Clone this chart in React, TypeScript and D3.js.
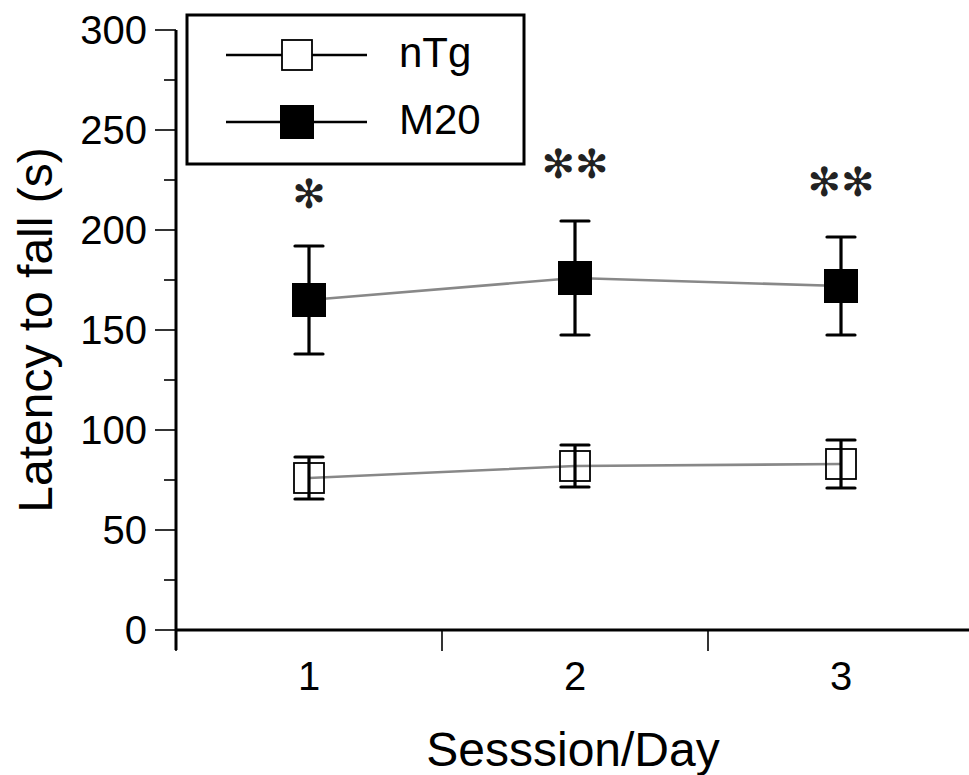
import React from "react";
import * as d3 from "d3";

const days = [1, 2, 3];
const nTgMean = [76, 82, 83];
const nTgErr = [10.5, 10.5, 12];
const m20Mean = [165, 176, 172];
const m20Err = [27, 28.5, 24.5];
const sigMarks = ["✻", "✻✻", "✻✻"];
const sigValues = [218, 233, 224];
const yMajorTicks = [0, 50, 100, 150, 200, 250, 300];
const yMinorTicks = [25, 75, 125, 175, 225, 275];
const xBoundaryTicks = [0.5, 1.5, 2.5];

const W = 969;
const H = 775;
const FONT = "'Liberation Sans', Arial, Helvetica, sans-serif";

export default function App() {
  const x = d3.scaleLinear().domain([0.5, 3.5]).range([176, 974]);
  const y = d3.scaleLinear().domain([0, 300]).range([630, 30]);
  const line = d3
    .line<number>()
    .x((_, i) => x(days[i]))
    .y((d) => y(d));

  const capHalf = 14;

  const errorBars = (means: number[], errs: number[], key: string) =>
    means.map((m, i) => {
      const cx = x(days[i]);
      const top = y(m + errs[i]);
      const bot = y(m - errs[i]);
      return (
        <g key={key + i} stroke="#000" strokeWidth={3.2}>
          <line x1={cx} x2={cx} y1={top} y2={bot} />
          <line x1={cx - capHalf} x2={cx + capHalf} y1={top} y2={top} strokeLinecap="round" />
          <line x1={cx - capHalf} x2={cx + capHalf} y1={bot} y2={bot} strokeLinecap="round" />
        </g>
      );
    });

  return (
    <svg
      width={W}
      height={H}
      style={{ position: "absolute", left: 0, top: 0, display: "block", background: "#fff" }}
      fontFamily={FONT}
    >
      {/* Y axis */}
      <line x1={176} x2={176} y1={y(300)} y2={650} stroke="#000" strokeWidth={3} />
      {yMajorTicks.map((t) => (
        <g key={"ym" + t}>
          <line x1={155} x2={176} y1={y(t)} y2={y(t)} stroke="#000" strokeWidth={1.6} />
          <text x={147} y={y(t)} dy="0.36em" textAnchor="end" fontSize={40}>
            {t}
          </text>
        </g>
      ))}
      {yMinorTicks.map((t) => (
        <line key={"yn" + t} x1={164} x2={176} y1={y(t)} y2={y(t)} stroke="#000" strokeWidth={1.6} />
      ))}
      {/* X axis */}
      <line x1={176} x2={W} y1={y(0)} y2={y(0)} stroke="#000" strokeWidth={3} />
      {xBoundaryTicks.map((t) => (
        <line key={"xt" + t} x1={x(t)} x2={x(t)} y1={y(0)} y2={651} stroke="#000" strokeWidth={1.6} />
      ))}
      {days.map((d) => (
        <text key={"xl" + d} x={x(d)} y={690} textAnchor="middle" fontSize={40}>
          {d}
        </text>
      ))}
      <text x={573} y={766} textAnchor="middle" fontSize={48}>
        Sesssion/Day
      </text>
      <text
        transform={`translate(52, 330) rotate(-90)`}
        textAnchor="middle"
        fontSize={48}
      >
        Latency to fall (s)
      </text>

      {/* Lines */}
      <path d={line(nTgMean) || ""} fill="none" stroke="#888" strokeWidth={2.6} />
      <path d={line(m20Mean) || ""} fill="none" stroke="#888" strokeWidth={2.6} />

      {/* nTg: hollow squares, then error bars */}
      {nTgMean.map((m, i) => (
        <rect
          key={"ns" + i}
          x={x(days[i]) - 15}
          y={y(m) - 15}
          width={30}
          height={30}
          fill="none"
          stroke="#000"
          strokeWidth={1.8}
        />
      ))}
      {errorBars(nTgMean, nTgErr, "ne")}

      {/* M20: error bars, then filled squares */}
      {errorBars(m20Mean, m20Err, "me")}
      {m20Mean.map((m, i) => (
        <rect key={"ms" + i} x={x(days[i]) - 17} y={y(m) - 17} width={34} height={34} fill="#000" />
      ))}

      {/* Significance marks */}
      {sigMarks.map((s, i) => (
        <text
          key={"sig" + i}
          x={x(days[i])}
          y={y(sigValues[i])}
          dy="0.35em"
          textAnchor="middle"
          fontSize={40}
          fontFamily="'DejaVu Sans', sans-serif"
          fill="#222"
        >
          {s}
        </text>
      ))}

      {/* Legend */}
      <rect x={187} y={15} width={337} height={149} fill="#fff" stroke="#000" strokeWidth={3} />
      <line x1={226} x2={367} y1={55} y2={55} stroke="#000" strokeWidth={2.4} />
      <rect x={282} y={40} width={30} height={30} fill="#fff" stroke="#000" strokeWidth={1.8} />
      <text x={399} y={67} fontSize={42}>nTg</text>
      <line x1={226} x2={367} y1={122} y2={122} stroke="#000" strokeWidth={2.4} />
      <rect x={280} y={105} width={34} height={34} fill="#000" />
      <text x={399} y={134} fontSize={42}>M20</text>
    </svg>
  );
}
